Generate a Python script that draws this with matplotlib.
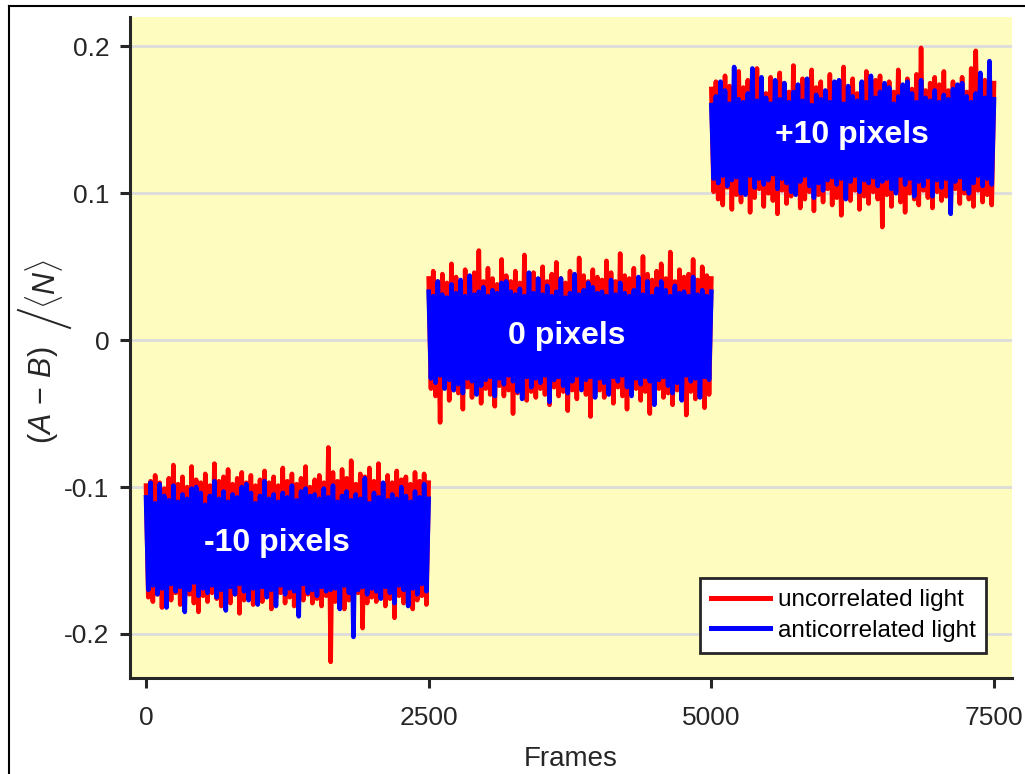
import numpy as np
import matplotlib.pyplot as plt
from matplotlib.lines import Line2D

plt.rcParams['font.family'] = ['Liberation Sans', 'DejaVu Sans']
plt.rcParams['mathtext.fontset'] = 'custom'
plt.rcParams['mathtext.rm'] = 'Liberation Sans'
plt.rcParams['mathtext.it'] = 'Liberation Sans:italic'

W, H = 1025, 774

# segment boundaries (frames) and labels
seg_edges = [0, 2500, 5000, 7500]
seg_labels = ['-10 pixels', '0 pixels', '+10 pixels']
label_x = [1160, 3720, 6245]
label_y = [-0.138, 0.003, 0.140]

# (A-B)/<N>, in units of 1e-3, sampled along each 2500-frame segment
red_m10 = [-99, -175, -96, -178, -92, -173, -97, -182, -101, -174, -94, -177, -85, -172, -98, -180, -93, -176, -100, -173, -86, -179, -95, -185, -97,
           -174, -91, -178, -99, -172, -84, -176, -96, -181, -93, -175, -88, -179, -98, -173, -94, -186, -90, -177, -97, -174, -92, -180, -99, -176,
           -95, -178, -89, -173, -97, -183, -93, -176, -99, -172, -87, -179, -96, -175, -91, -181, -98, -174, -94, -177, -86, -173, -100, -179, -95,
           -176, -92, -181, -97, -174, -73, -219, -90, -178, -96, -175, -88, -183, -94, -177, -82, -176, -98, -172, -91, -196, -93, -179, -87, -175,
           -96, -178, -84, -173, -99, -181, -92, -176, -97, -189, -89, -174, -95, -179, -93, -175, -98, -183, -90, -177, -96, -174, -91, -180, -97]
red_0 = [42, -33, 47, -38, 40, -56, 45, -31, 39, -41, 52, -34, 43, -36, 38, -47, 48, -32, 41, -39, 46, -35, 61, -43, 40,
         -33, 49, -37, 42, -45, 38, -31, 55, -38, 44, -34, 40, -50, 47, -36, 39, -32, 58, -41, 43, -35, 46, -39, 41, -33,
         50, -37, 40, -44, 45, -32, 53, -38, 42, -35, 39, -48, 47, -34, 41, -40, 56, -33, 44, -37, 40, -52, 48, -36, 43,
         -34, 41, -39, 54, -35, 46, -43, 40, -32, 59, -38, 44, -47, 42, -36, 49, -33, 40, -41, 57, -35, 45, -50, 41, -37,
         47, -33, 52, -39, 42, -36, 60, -44, 40, -34, 48, -38, 43, -51, 45, -35, 55, -40, 41, -33, 50, -46, 44, -37, 42]
red_p10 = [171, 101, 176, 96, 168, 92, 180, 104, 173, 89, 169, 99, 183, 94, 172, 102, 177, 87, 170, 97, 185, 103, 174, 91, 168,
           100, 179, 95, 171, 86, 182, 102, 175, 93, 169, 98, 187, 104, 173, 90, 178, 96, 170, 101, 184, 88, 172, 99, 176, 94,
           169, 103, 181, 92, 174, 97, 170, 85, 186, 100, 172, 95, 178, 102, 168, 89, 175, 98, 183, 93, 171, 101, 177, 96, 180,
           77, 172, 99, 176, 91, 169, 103, 184, 94, 173, 87, 178, 100, 171, 96, 181, 92, 199, 102, 170, 97, 175, 90, 179, 101,
           174, 95, 183, 98, 170, 89, 176, 103, 172, 93, 179, 100, 169, 96, 185, 91, 197, 102, 173, 94, 177, 99, 171, 92, 175]

blue_m10 = [-107, -170, -97, -167, -111, -173, -98, -169, -106, -182, -109, -166, -99, -171, -110, -168, -105, -185, -108, -170, -101, -165, -100, -174, -104,
            -169, -112, -172, -106, -167, -96, -175, -108, -170, -103, -184, -110, -168, -105, -173, -107, -166, -100, -171, -98, -177, -104, -169, -111, -180,
            -106, -168, -96, -175, -108, -170, -105, -181, -110, -167, -104, -173, -107, -169, -99, -171, -109, -188, -103, -166, -101, -172, -106, -170, -105,
            -174, -108, -168, -101, -171, -107, -170, -99, -169, -110, -183, -106, -167, -103, -172, -109, -202, -105, -170, -108, -168, -94, -173, -111, -169,
            -104, -171, -107, -176, -97, -168, -109, -172, -105, -179, -108, -167, -100, -170, -106, -181, -110, -169, -103, -173, -107, -166, -98, -171, -108]
blue_0 = [33, -26, 30, -29, 40, -24, 31, -33, 29, -27, 38, -34, 32, -30, 41, -36, 30, -26, 44, -28, 31, -37, 33, -31, 36,
          -27, 30, -25, 34, -38, 32, -26, 39, -30, 40, -24, 33, -28, 31, -35, 35, -40, 30, -25, 46, -32, 32, -26, 42, -29,
          31, -24, 37, -42, 30, -27, 33, -25, 42, -31, 29, -36, 32, -28, 45, -24, 31, -34, 34, -27, 39, -25, 36, -39, 32,
          -26, 33, -29, 30, -37, 41, -25, 31, -28, 39, -24, 32, -32, 30, -38, 34, -26, 43, -30, 31, -25, 40, -28, 30, -44,
          35, -27, 40, -25, 34, -31, 30, -36, 37, -29, 32, -41, 33, -24, 30, -28, 43, -26, 31, -39, 34, -25, 30, -27, 33]
blue_p10 = [160, 110, 166, 107, 176, 112, 170, 105, 161, 109, 186, 111, 164, 100, 162, 99, 168, 112, 185, 104, 163, 110, 179, 106, 165,
            109, 161, 113, 177, 103, 164, 110, 175, 107, 162, 101, 169, 99, 174, 108, 163, 112, 178, 105, 160, 97, 167, 107, 164, 102,
            170, 109, 162, 111, 176, 106, 177, 110, 161, 96, 173, 108, 166, 112, 163, 101, 176, 109, 162, 107, 180, 111, 165, 105, 169,
            108, 175, 110, 172, 103, 161, 100, 166, 112, 174, 106, 176, 110, 168, 98, 162, 108, 177, 105, 165, 111, 163, 98, 170, 109,
            162, 104, 167, 110, 164, 86, 171, 108, 174, 111, 175, 103, 166, 100, 162, 107, 168, 112, 182, 105, 165, 110, 190, 106, 164]

red_segs = [red_m10, red_0, red_p10]
blue_segs = [blue_m10, blue_0, blue_p10]


def fpx(x, y):
    # pixel position (from top-left) to figure fraction
    return x / W, 1 - y / H


fig = plt.figure(figsize=(W / 100, H / 100), dpi=100)
ax = fig.add_axes([0.1268, 0.124, 0.8605, 0.854])
ax.set_facecolor('#fffcc0')

lw = 3.3
for i in range(3):
    vals = np.array(red_segs[i]) / 1000.
    fr = np.linspace(seg_edges[i], seg_edges[i+1], len(vals))
    ax.plot(fr, vals, color='#ff0000', lw=lw, zorder=2)
for i in range(3):
    vals = np.array(blue_segs[i]) / 1000.
    fr = np.linspace(seg_edges[i], seg_edges[i+1], len(vals))
    ax.plot(fr, vals, color='#0000ff', lw=lw, zorder=3)

for i in range(3):
    ax.text(label_x[i], label_y[i], seg_labels[i], color='white', fontsize=23,
            fontweight='bold', ha='center', va='center', zorder=5)

ax.set_xlim(-142, 7659)
ax.set_ylim(-0.23, 0.22)
ax.set_xticks([0, 2500, 5000, 7500])
ax.set_yticks([-0.2, -0.1, 0, 0.1, 0.2])
ax.set_yticklabels(['-0.2', '-0.1', '0', '0.1', '0.2'])
ax.yaxis.grid(True, color='#dcdcdc', lw=2)
ax.set_axisbelow(True)

for s in ['top', 'right']:
    ax.spines[s].set_visible(False)
for s in ['left', 'bottom']:
    ax.spines[s].set_linewidth(2.2)
    ax.spines[s].set_color('#262626')
ax.tick_params(direction='out', length=7, width=2.2, color='#262626',
               labelsize=19, labelcolor='#262626')
ax.tick_params(axis='x', pad=13)
ax.tick_params(axis='y', pad=8)

ax.set_xlabel('Frames', fontsize=20, color='#262626')
ax.xaxis.set_label_coords(0.5, -0.103)

# y label: (A - B) / <N> with a tall thin slash
fig.text(*fpx(43, 395), r'$(A\,-\,B)$', fontsize=22, color='#262626',
         rotation=90, ha='center', va='center')
fig.text(*fpx(44, 284), r'$\langle N\rangle$', fontsize=22, color='#262626',
         rotation=90, ha='center', va='center')
sx0, sy0 = fpx(18, 310)
sx1, sy1 = fpx(70, 328)
fig.add_artist(Line2D([sx0, sx1], [sy0, sy1], color='#262626', lw=1.4))

handles = [Line2D([], [], color='#ff0000', lw=3.6), Line2D([], [], color='#0000ff', lw=3.6)]
leg = ax.legend(handles, ['uncorrelated light', 'anticorrelated light'], loc='lower right',
                fontsize=17.5, frameon=True, fancybox=False, framealpha=1, edgecolor='#262626',
                handlelength=2.45, handletextpad=0.3, labelspacing=0.35, borderpad=0.45,
                borderaxespad=1.05)
leg.get_frame().set_linewidth(2)

# outer frame lines of the original figure
fig.add_artist(Line2D([9 / W, 1], [1 - 6 / H, 1 - 6 / H], color='black', lw=1.5))
fig.add_artist(Line2D([9 / W, 9 / W], [0, 1 - 6 / H], color='black', lw=1.5))

fig.savefig('out.png', dpi=100)
